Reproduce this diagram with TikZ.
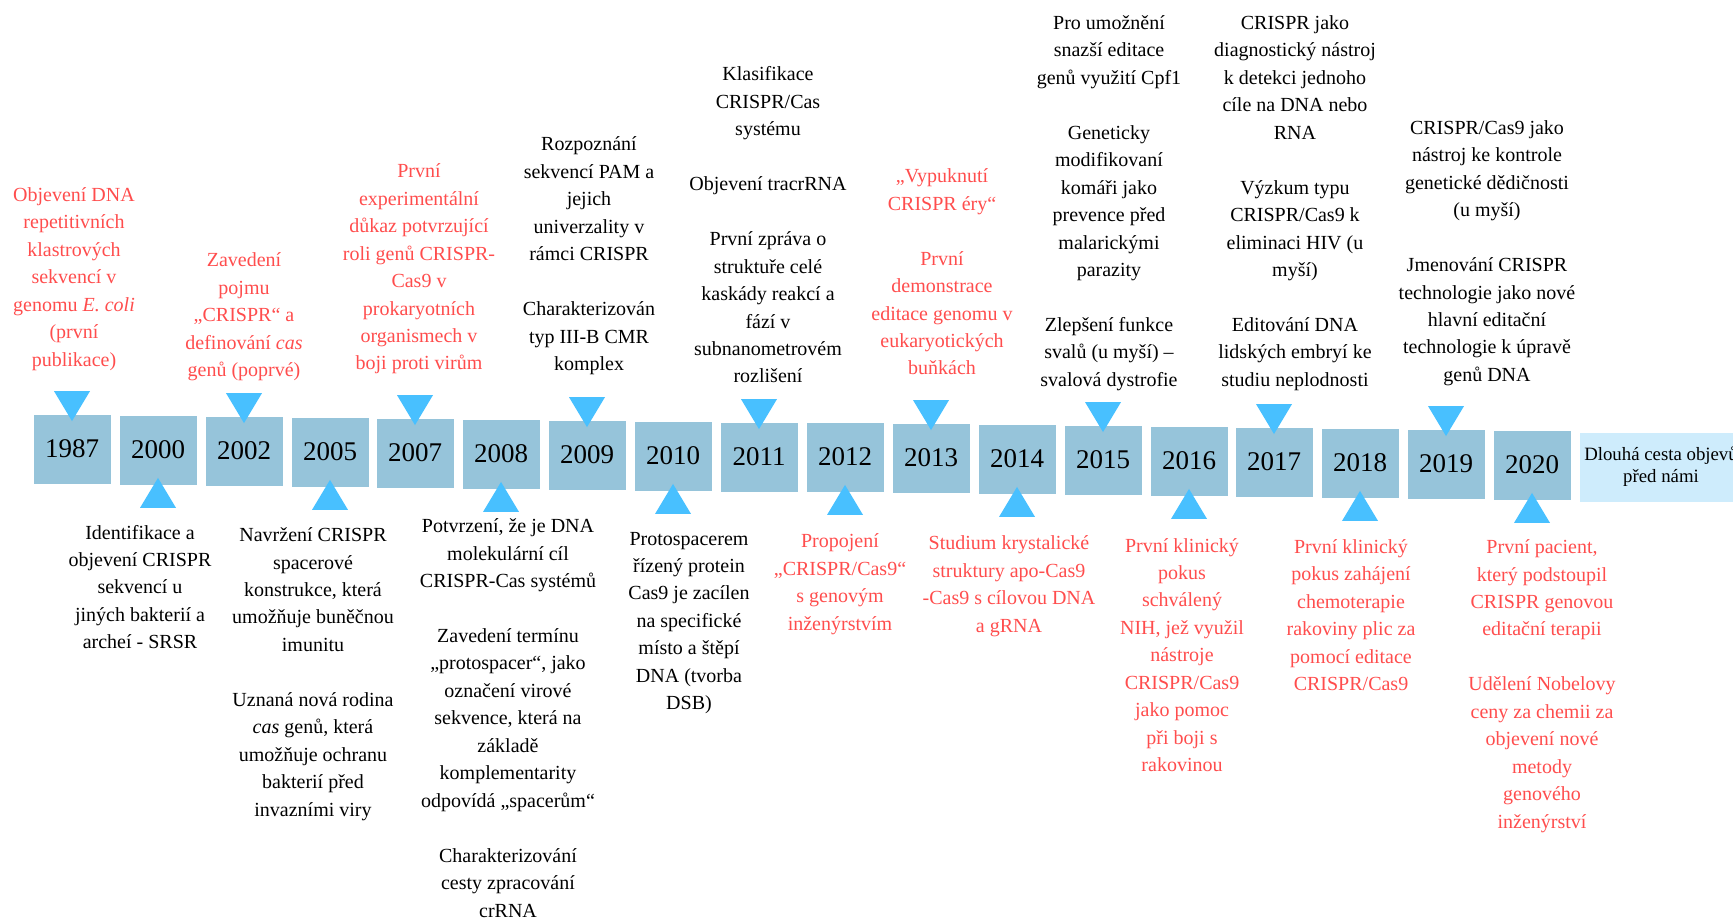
\documentclass[tikz,border=0pt]{standalone}
\usepackage{fontspec}
\setmainfont{Liberation Serif}
\usepackage{xcolor}
\usetikzlibrary{calc}
\usetikzlibrary{math}

\definecolor{boxblue}{RGB}{150,196,218}
\definecolor{triblue}{RGB}{72,192,255}
\definecolor{lightblue}{RGB}{206,236,252}
\definecolor{evred}{RGB}{255,77,77}

\begin{document}
\begin{tikzpicture}[x=0.5pt,y=-0.5pt,
  yearbox/.style={fill=boxblue, minimum width=38.5pt, minimum height=34.5pt,
    inner sep=0pt, font=\fontsize{13.5}{16}\selectfont},
  eventtext/.style={align=center, inner sep=0pt, font=\fontsize{10}{13.73}\selectfont,
    execute at begin node=\strut, execute at end node=\strut},
  redtext/.style={text=evred},
  marker/.style={fill=triblue}]

  \tikzmath{
    \triw = 18; % half width of the triangle markers
    \trih = 30; % height of the triangle markers
    \dip  = 7;  % how far the tip reaches into the year box
  }

  % page frame, the light box runs off the right edge
  \useasboundingbox (0,0) rectangle (1733,920);
  \clip (0,0) rectangle (1733,920);

  % Year boxes of the time line
  \node[yearbox] (Y1987) at (72,449) {1987};
  \node[yearbox] (Y2000) at (158,450) {2000};
  \node[yearbox] (Y2002) at (244,451) {2002};
  \node[yearbox] (Y2005) at (330,452) {2005};
  \node[yearbox] (Y2007) at (415,453) {2007};
  \node[yearbox] (Y2008) at (501,454) {2008};
  \node[yearbox] (Y2009) at (587,455) {2009};
  \node[yearbox] (Y2010) at (673,456) {2010};
  \node[yearbox] (Y2011) at (759,457) {2011};
  \node[yearbox] (Y2012) at (845,457) {2012};
  \node[yearbox] (Y2013) at (931,458) {2013};
  \node[yearbox] (Y2014) at (1017,459) {2014};
  \node[yearbox] (Y2015) at (1103,460) {2015};
  \node[yearbox] (Y2016) at (1189,461) {2016};
  \node[yearbox] (Y2017) at (1274,462) {2017};
  \node[yearbox] (Y2018) at (1360,463) {2018};
  \node[yearbox] (Y2019) at (1446,464) {2019};
  \node[yearbox] (Y2020) at (1532,465) {2020};
  \node[yearbox, fill=lightblue, minimum width=81pt, align=center,
    font=\fontsize{9.4}{11}\selectfont] (Yfuture) at (1661,467) {Dlouhá cesta objevů\\před námi};

  % markers pointing down onto the boxes
  \fill[marker] ($(Y1987.north)+(0,\dip)$) -- ++(-\triw,-\trih) -- ++(2*\triw,0) -- cycle;
  \fill[marker] ($(Y2002.north)+(0,\dip)$) -- ++(-\triw,-\trih) -- ++(2*\triw,0) -- cycle;
  \fill[marker] ($(Y2007.north)+(0,\dip)$) -- ++(-\triw,-\trih) -- ++(2*\triw,0) -- cycle;
  \fill[marker] ($(Y2009.north)+(0,\dip)$) -- ++(-\triw,-\trih) -- ++(2*\triw,0) -- cycle;
  \fill[marker] ($(Y2011.north)+(0,\dip)$) -- ++(-\triw,-\trih) -- ++(2*\triw,0) -- cycle;
  \fill[marker] ($(Y2013.north)+(0,\dip)$) -- ++(-\triw,-\trih) -- ++(2*\triw,0) -- cycle;
  \fill[marker] ($(Y2015.north)+(0,\dip)$) -- ++(-\triw,-\trih) -- ++(2*\triw,0) -- cycle;
  \fill[marker] ($(Y2017.north)+(0,\dip)$) -- ++(-\triw,-\trih) -- ++(2*\triw,0) -- cycle;
  \fill[marker] ($(Y2019.north)+(0,\dip)$) -- ++(-\triw,-\trih) -- ++(2*\triw,0) -- cycle;

  % markers pointing up onto the boxes
  \fill[marker] ($(Y2000.south)-(0,\dip)$) -- ++(-\triw,\trih) -- ++(2*\triw,0) -- cycle;
  \fill[marker] ($(Y2005.south)-(0,\dip)$) -- ++(-\triw,\trih) -- ++(2*\triw,0) -- cycle;
  \fill[marker] ($(Y2008.south)-(0,\dip)$) -- ++(-\triw,\trih) -- ++(2*\triw,0) -- cycle;
  \fill[marker] ($(Y2010.south)-(0,\dip)$) -- ++(-\triw,\trih) -- ++(2*\triw,0) -- cycle;
  \fill[marker] ($(Y2012.south)-(0,\dip)$) -- ++(-\triw,\trih) -- ++(2*\triw,0) -- cycle;
  \fill[marker] ($(Y2014.south)-(0,\dip)$) -- ++(-\triw,\trih) -- ++(2*\triw,0) -- cycle;
  \fill[marker] ($(Y2016.south)-(0,\dip)$) -- ++(-\triw,\trih) -- ++(2*\triw,0) -- cycle;
  \fill[marker] ($(Y2018.south)-(0,\dip)$) -- ++(-\triw,\trih) -- ++(2*\triw,0) -- cycle;
  \fill[marker] ($(Y2020.south)-(0,\dip)$) -- ++(-\triw,\trih) -- ++(2*\triw,0) -- cycle;

  % events above the time line
  \node[eventtext, redtext] (T1987) at (74,281) {Objevení DNA\\repetitivních\\klastrových\\sekvencí v\\genomu \textit{E. coli}\\(první\\publikace)};
  \node[eventtext, redtext] (T2002) at (244,319) {Zavedení\\pojmu\\„CRISPR“ a\\definování \textit{cas}\\genů (poprvé)};
  \node[eventtext, redtext] (T2007) at (419,271) {První\\experimentální\\důkaz potvrzující\\roli genů CRISPR-\\Cas9 v\\prokaryotních\\organismech v\\boji proti virům};
  \node[eventtext] (T2009) at (589,258) {Rozpoznání\\sekvencí PAM a\\jejich\\univerzality v\\rámci CRISPR\\[\baselineskip]Charakterizován\\typ III-B CMR\\komplex};
  \node[eventtext] (T2011) at (768,229) {Klasifikace\\CRISPR/Cas\\systému\\[\baselineskip]Objevení tracrRNA\\[\baselineskip]První zpráva o\\struktuře celé\\kaskády reakcí a\\fází v\\subnanometrovém\\rozlišení};
  \node[eventtext, redtext] (T2013) at (942,276) {„Vypuknutí\\CRISPR éry“\\[\baselineskip]První\\demonstrace\\editace genomu v\\eukaryotických\\buňkách};
  \node[eventtext] (T2015) at (1109,205) {Pro umožnění\\snazší editace\\genů využití Cpf1\\[\baselineskip]Geneticky\\modifikovaní\\komáři jako\\prevence před\\malarickými\\parazity\\[\baselineskip]Zlepšení funkce\\svalů (u myší) –\\svalová dystrofie};
  \node[eventtext] (T2017) at (1295,205) {CRISPR jako\\diagnostický nástroj\\k detekci jednoho\\cíle na DNA nebo\\RNA\\[\baselineskip]Výzkum typu\\CRISPR/Cas9 k\\eliminaci HIV (u\\myší)\\[\baselineskip]Editování DNA\\lidských embryí ke\\studiu neplodnosti};
  \node[eventtext] (T2019) at (1487,255) {CRISPR/Cas9 jako\\nástroj ke kontrole\\genetické dědičnosti\\(u myší)\\[\baselineskip]Jmenování CRISPR\\technologie jako nové\\hlavní editační\\technologie k úpravě\\genů DNA};

  % events below the time line
  \node[eventtext] (T2000) at (140,591) {Identifikace a\\objevení CRISPR\\sekvencí u\\jiných bakterií a\\archeí - SRSR};
  \node[eventtext] (T2005) at (313,676) {Navržení CRISPR\\spacerové\\konstrukce, která\\umožňuje buněčnou\\imunitu\\[\baselineskip]Uznaná nová rodina\\\textit{cas} genů, která\\umožňuje ochranu\\bakterií před\\invazními viry};
  \node[eventtext] (T2008) at (508,722) {Potvrzení, že je DNA\\molekulární cíl\\CRISPR-Cas systémů\\[\baselineskip]Zavedení termínu\\„protospacer“, jako\\označení virové\\sekvence, která na\\základě\\komplementarity\\odpovídá „spacerům“\\[\baselineskip]Charakterizování\\cesty zpracování\\crRNA};
  \node[eventtext] (T2010) at (689,625) {Protospacerem\\řízený protein\\Cas9 je zacílen\\na specifické\\místo a štěpí\\DNA (tvorba\\DSB)};
  \node[eventtext, redtext] (T2012) at (840,586) {Propojení\\„CRISPR/Cas9“\\s genovým\\inženýrstvím};
  \node[eventtext, redtext] (T2014) at (1009,588) {Studium krystalické\\struktury apo-Cas9\\-Cas9 s cílovou DNA\\a gRNA};
  \node[eventtext, redtext] (T2016) at (1182,659) {První klinický\\pokus\\schválený\\NIH, jež využil\\nástroje\\CRISPR/Cas9\\jako pomoc\\při boji s\\rakovinou};
  \node[eventtext, redtext] (T2018) at (1351,619) {První klinický\\pokus zahájení\\chemoterapie\\rakoviny plic za\\pomocí editace\\CRISPR/Cas9};
  \node[eventtext, redtext] (T2020) at (1542,688) {První pacient,\\který podstoupil\\CRISPR genovou\\editační terapii\\[\baselineskip]Udělení Nobelovy\\ceny za chemii za\\objevení nové\\metody\\genového\\inženýrství};

\end{tikzpicture}
\end{document}
